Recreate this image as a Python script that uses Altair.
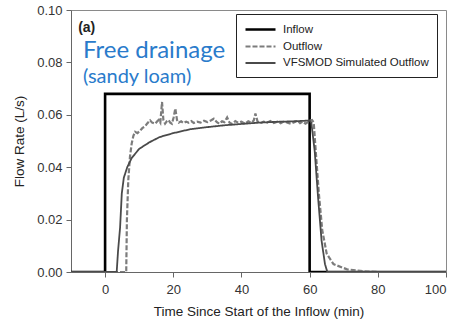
import altair as alt
import pandas as pd

# ---- data ----
inflow_t = [-10, 0, 0, 60, 60, 100]
inflow_q = [0, 0, 0.068, 0.068, 0, 0]

obs_t = [-10, 6.2, 6.4, 6.8, 7.3, 7.8, 8.3, 8.8, 9.5, 10.3, 11.0, 11.7, 12.3, 13.2, 13.8,
         14.7, 15.3, 15.7, 16.2, 16.7, 17.1, 17.6, 18.1, 18.6, 19.1, 19.6, 20.1, 20.6,
         21.1, 21.6, 22.3, 23.0, 23.8, 24.5, 25.3, 26.0, 27.0, 28.0, 29.0, 30.0, 31.0,
         31.9, 32.8, 33.5, 34.3, 35.0, 35.8, 36.5, 37.3, 38.2, 39.0, 40.0, 41.0, 42.0,
         43.0, 43.6, 44.1, 44.7, 45.5, 46.5, 47.5, 48.5, 49.5, 50.5, 51.5, 52.5, 53.5,
         54.5, 55.5, 56.5, 57.2, 58.0, 58.8, 59.5, 60.2, 60.7, 61.2, 61.8, 62.7, 63.7,
         65.0, 67.0, 71.0, 76.0, 80.0, 100]
obs_q = [0, 0, 0.020, 0.035, 0.044, 0.049, 0.052, 0.0535, 0.053, 0.054, 0.055, 0.0555,
         0.0566, 0.0579, 0.057, 0.0566, 0.0575, 0.058, 0.057, 0.0649, 0.058, 0.0566,
         0.0575, 0.058, 0.057, 0.0566, 0.059, 0.0624, 0.058, 0.057, 0.0575, 0.0568,
         0.0574, 0.057, 0.0576, 0.0569, 0.0574, 0.057, 0.0577, 0.0572, 0.0578, 0.0585,
         0.0572, 0.0566, 0.0575, 0.0572, 0.059, 0.057, 0.0565, 0.0576, 0.057, 0.0574,
         0.0566, 0.0575, 0.057, 0.0578, 0.0605, 0.0575, 0.0568, 0.0574, 0.057, 0.0576,
         0.0569, 0.0574, 0.0568, 0.0575, 0.057, 0.0566, 0.0572, 0.0578, 0.0568, 0.0574,
         0.0566, 0.0572, 0.0578, 0.058, 0.057, 0.046, 0.030, 0.016, 0.007, 0.003, 0.001,
         0.0003, 0, 0]

sim_t = [-10, 3.4, 3.8, 4.4, 4.9, 5.5, 6.5, 7.8, 10, 13, 16, 20, 25, 30, 35, 40, 45, 50,
         55, 60, 60.5, 61.5, 62.5, 63.5, 64.5, 65.2, 100]
sim_q = [0, 0, 0.008, 0.017, 0.030, 0.036, 0.040, 0.0435, 0.047, 0.0495, 0.0515, 0.053,
         0.0545, 0.0553, 0.056, 0.0565, 0.057, 0.0573, 0.0575, 0.0578, 0.057, 0.046,
         0.028, 0.012, 0.003, 0, 0]

series = ["Inflow", "Outflow", "VFSMOD Simulated Outflow"]
x_ticks = [0, 20, 40, 60, 80, 100]
y_ticks = [0.0, 0.02, 0.04, 0.06, 0.08, 0.10]

notes_text = ["(a)", "Free drainage", "(sandy loam)"]
notes_t = [-7.9, -6.5, -6.5]
notes_q = [0.0917, 0.0817, 0.0720]

# ---- tables ----
frames = []
for name, ts, qs in [(series[0], inflow_t, inflow_q), (series[1], obs_t, obs_q),
                     (series[2], sim_t, sim_q)]:
    frames.append(pd.DataFrame({"t": ts, "q": qs, "series": name,
                                "i": range(len(ts))}))
df = pd.concat(frames, ignore_index=True)
notes = pd.DataFrame({"text": notes_text, "t": notes_t, "q": notes_q})

xscale = alt.Scale(domain=[-10, 100], nice=False, zero=False)
yscale = alt.Scale(domain=[0, 0.1], nice=False)

leg = alt.Legend(title=None, orient="none", legendX=165, legendY=4)

lines = alt.Chart(df).mark_line(clip=True).encode(
    x=alt.X("t:Q", scale=xscale,
            axis=alt.Axis(values=x_ticks, title="Time Since Start of the Inflow (min)",
                          format="d")),
    y=alt.Y("q:Q", scale=yscale,
            axis=alt.Axis(values=y_ticks, title="Flow Rate (L/s)", format=".2f")),
    order="i:Q",
    color=alt.Color("series:N", scale=alt.Scale(domain=series,
                    range=["#000000", "#7c7c7c", "#4a4a4a"]), legend=leg),
    strokeDash=alt.StrokeDash("series:N", scale=alt.Scale(domain=series,
                              range=[[1, 0], [5, 2], [1, 0]]), legend=leg),
    strokeWidth=alt.StrokeWidth("series:N", scale=alt.Scale(domain=series,
                                range=[2.6, 1.8, 0.9]), legend=leg),
)

label_a = alt.Chart(notes.iloc[[0]]).mark_text(
    align="left", baseline="alphabetic", font="Liberation Sans", fontSize=14,
    fontWeight="bold", color="#222").encode(x=alt.X("t:Q", scale=xscale),
                                            y=alt.Y("q:Q", scale=yscale), text="text:N")
label_big = alt.Chart(notes.iloc[[1]]).mark_text(
    align="left", baseline="alphabetic", font="Lato", fontSize=24,
    color="#2a7bcb").encode(x=alt.X("t:Q", scale=xscale),
                            y=alt.Y("q:Q", scale=yscale), text="text:N")
label_small = alt.Chart(notes.iloc[[2]]).mark_text(
    align="left", baseline="alphabetic", font="Lato", fontSize=20,
    color="#2a7bcb").encode(x=alt.X("t:Q", scale=xscale),
                            y=alt.Y("q:Q", scale=yscale), text="text:N")

chart = alt.layer(lines, label_a, label_big, label_small).properties(
    width=375, height=262,
    padding={"left": 71, "top": 10, "right": 7, "bottom": 49},
    autosize=alt.AutoSizeParams(type="none"),
    background="white",
).configure_view(stroke="#8a8a8a", strokeWidth=1).configure_axis(
    grid=False, domainColor="#666", tickColor="#666", tickSize=5,
    labelFont="Liberation Sans", labelFontSize=13, labelColor="#333",
    titleFont="Liberation Sans", titleFontSize=13.5, titleFontWeight="normal",
    titleColor="#222",
).configure_axisX(labelPadding=6, titlePadding=8).configure_axisY(
    labelPadding=4, titlePadding=10
).configure_legend(
    strokeColor="#222", fillColor="white", padding=8,
    symbolType="M-1,0H4", symbolSize=144, labelFont="Liberation Sans",
    labelFontSize=11.5, labelColor="#222", rowPadding=4, cornerRadius=0,
    labelOffset=24,
)

chart.save("out.html", embed_options={"renderer": "svg", "actions": False})
